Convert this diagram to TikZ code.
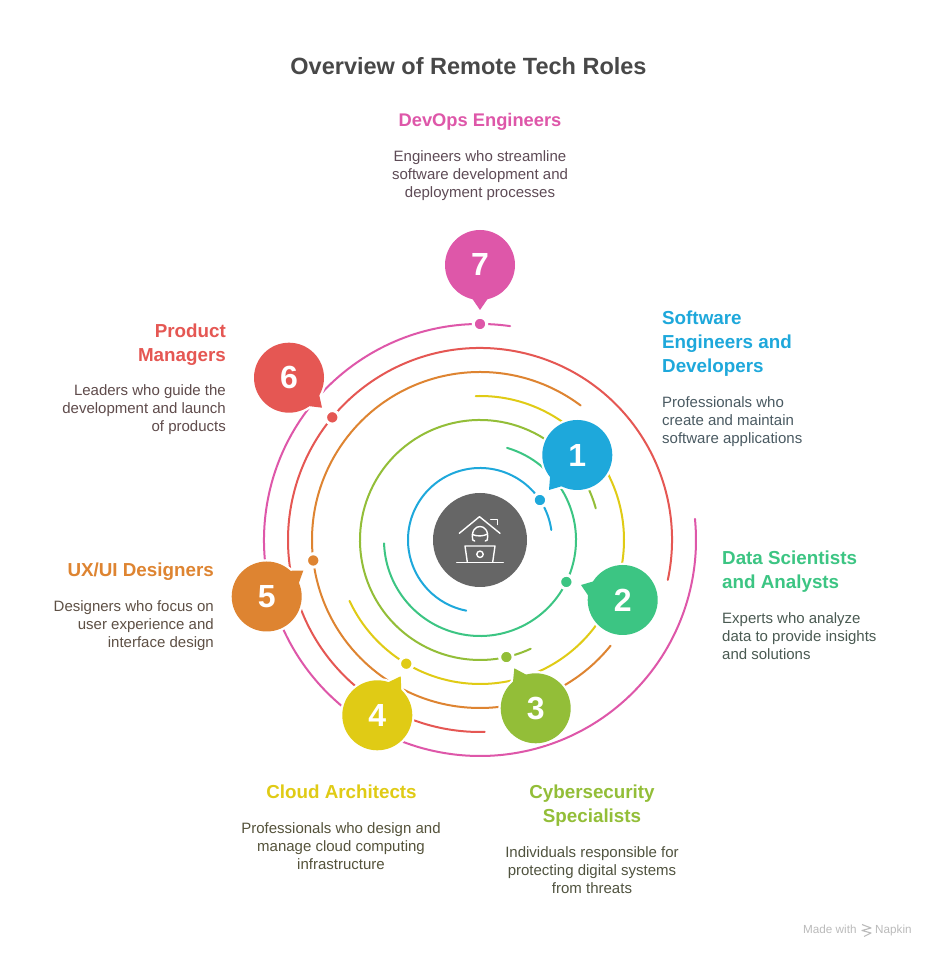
\documentclass[tikz,border=0pt]{standalone}
\usepackage{fontspec}
\setmainfont{Liberation Sans}
\usetikzlibrary{calc}
\definecolor{cblue}{HTML}{1EA8DB}
\definecolor{cgreen}{HTML}{3CC583}
\definecolor{colive}{HTML}{93BE38}
\definecolor{cyellow}{HTML}{E0CB15}
\definecolor{corange}{HTML}{DE8431}
\definecolor{cred}{HTML}{E55753}
\definecolor{cpink}{HTML}{DE57A9}
\definecolor{chub}{HTML}{666666}
\definecolor{ctitle}{HTML}{484848}
\definecolor{tblue}{HTML}{4A5A62}
\definecolor{tgreen}{HTML}{4A5A52}
\definecolor{tolive}{HTML}{50533F}
\definecolor{tyellow}{HTML}{55533B}
\definecolor{torange}{HTML}{5E5045}
\definecolor{tred}{HTML}{5F4B4B}
\definecolor{tpink}{HTML}{5E4B56}
\definecolor{cfoot}{HTML}{BBBBBB}
\tikzset{
  x=1pt,y=1pt,
  ring/.style={line width=2pt,line cap=round},
  dotmark/.style={circle,inner sep=0pt,minimum size=13.5pt,draw=white,line width=3pt,fill=#1},
  bubble/.style={circle,inner sep=0pt,minimum size=70pt,fill=#1,text=white,font=\fontsize{32}{32}\selectfont\bfseries},
  heading/.style={inner sep=0pt,font=\fontsize{18.8}{24}\selectfont\bfseries,text=#1},
  bodytext/.style={inner sep=0pt,font=\fontsize{15}{18}\selectfont,text=#1},
  iconline/.style={draw=white,line width=1.4pt,line cap=round,line join=round},
}
\newcommand{\ringarc}[4]{\draw[ring,draw=#1] (#3:#2pt) arc[start angle=#3,end angle=#4,radius=#2pt];}
\newcommand{\pointer}[5]{%
  \coordinate (#2tip) at (#3,#4);
  \path let \p1=($(#2tip)-(#2)$), \n1={atan2(\y1,\x1)} in
    coordinate (#2a) at ($(#2)+(\n1+#5:34pt)$)
    coordinate (#2b) at ($(#2)+(\n1-#5:34pt)$);
  \path[fill=#1,draw=white,line width=4.6pt,line join=miter] (#2a) -- (#2tip) -- (#2b) -- cycle;
}
\begin{document}
\begin{tikzpicture}
\useasboundingbox (0,0) rectangle (936,958);
\fill[white] (0,0) rectangle (936,958);
\coordinate (center) at (480,418);
\begin{scope}[shift={(center)}]
\ringarc{cpink}{216}{82}{365.6}
\ringarc{cred}{192}{-12}{271.4}
\ringarc{corange}{168}{53.2}{321}
\ringarc{cyellow}{144}{91.7}{-155}
\ringarc{colive}{120}{15.3}{295}
\ringarc{cgreen}{96}{73.6}{-178}
\ringarc{cblue}{72}{8}{259}
\node[dotmark=cblue] (d1) at (33.7:72pt) {};
\node[dotmark=cgreen] (d2) at (-25.9:96pt) {};
\node[dotmark=colive] (d3) at (282.7:120pt) {};
\node[dotmark=cyellow] (d4) at (239.2:144pt) {};
\node[dotmark=corange] (d5) at (187:168pt) {};
\node[dotmark=cred] (d6) at (140.3:192pt) {};
\node[dotmark=cpink] (d7) at (90:216pt) {};
\end{scope}
\foreach \nm/\col/\px/\py/\tx/\ty/\lab in {
  b1/cblue/577.3/503/549/468/1,
  b2/cgreen/622.7/358/581/373/2,
  b3/colive/535.7/249.7/514.3/289.7/3,
  b4/cyellow/377.3/242.7/400.7/281.7/4,
  b5/corange/266.7/361.5/303.3/387.3/5,
  b6/cred/289/580.3/322/550.3/6,
  b7/cpink/480/693/480/648/7}{
  \node[circle,inner sep=0pt,minimum size=70pt,draw=white,line width=4.6pt] (\nm) at (\px,\py) {};
  \pointer{\col}{\nm}{\tx}{\ty}{14}
  \fill[\col] (\nm a) -- (\nm tip) -- (\nm b) -- cycle;
  \node[bubble=\col] at (\px,\py) {\lab};
}
\node[circle,inner sep=0pt,minimum size=94pt,fill=chub] (hub) at (center) {};
\begin{scope}[shift={(center)},x=1pt,y=-1pt,iconline]
\draw (-20.7,-6.7) -- (-0.5,-23.3) -- (20,-6.7);
\draw (10.7,-20.7) -- (17.3,-20.7) -- (17.3,-15.5);
\draw (-5.3,1) -- (-7.3,0) .. controls (-9,-10) and (-4,-13.5) .. (0,-13.5) .. controls (4,-13.5) and (9,-10) .. (7.3,0) -- (5.3,1);
\draw (-7.7,-5.5) .. controls (-3,-3.5) and (3,-3.5) .. (7.7,-6);
\draw (-12.7,22) -- (-15,6) -- (15,6) -- (12.7,22);
\draw (0,14.3) circle[radius=3.2];
\draw (-23.3,22.5) -- (23.3,22.5);
\end{scope}
\node[inner sep=0pt,font=\fontsize{23.5}{28}\selectfont\bfseries,text=ctitle] (title) at (468.5,891.6) {Overview of Remote Tech Roles};
\node[heading=cpink,font=\fontsize{18.3}{24}\selectfont\bfseries] (h7) at (480,836) {DevOps Engineers};
\node[bodytext=tpink,align=center,anchor=north] (t7) at (480,808) {Engineers who streamline\\software development and\\deployment processes};
\node[heading=cblue,align=left,anchor=north west] (h1) at (662,647) {Software\\Engineers and\\Developers};
\node[bodytext=tblue,align=left,anchor=north west] (t1) at (662,562) {Professionals who\\create and maintain\\software applications};
\node[heading=cgreen,align=left,anchor=north west] (h2) at (722,407) {Data Scientists\\and Analysts};
\node[bodytext=tgreen,align=left,anchor=north west] (t2) at (722,346) {Experts who analyze\\data to provide insights\\and solutions};
\node[heading=colive,align=center,anchor=north] (h3) at (592,173) {Cybersecurity\\Specialists};
\node[bodytext=tolive,align=center,anchor=north] (t3) at (592,112) {Individuals responsible for\\protecting digital systems\\from threats};
\node[heading=cyellow,anchor=north] (h4) at (341.5,173) {Cloud Architects};
\node[bodytext=tyellow,align=center,anchor=north] (t4) at (341,136) {Professionals who design and\\manage cloud computing\\infrastructure};
\node[heading=corange,anchor=north east] (h5) at (214,395) {UX/UI Designers};
\node[bodytext=torange,align=right,anchor=north east] (t5) at (214,358) {Designers who focus on\\user experience and\\interface design};
\node[heading=cred,align=right,anchor=north east] (h6) at (226,634) {Product\\Managers};
\node[bodytext=tred,align=right,anchor=north east] (t6) at (226,574) {Leaders who guide the\\development and launch\\of products};
\node[inner sep=0pt,font=\fontsize{11.7}{14}\selectfont,text=cfoot,anchor=base west] (foot1) at (803,24) {Made with};
\node[inner sep=0pt,font=\fontsize{11.7}{14}\selectfont,text=cfoot,anchor=base west] (foot2) at (875,24) {Napkin};
\draw[cfoot,line width=1.1pt,line join=round] (862,33.5) -- (871,30) -- (862,27.5) -- (871,25) -- (864,21.5);
\end{tikzpicture}
\end{document}
